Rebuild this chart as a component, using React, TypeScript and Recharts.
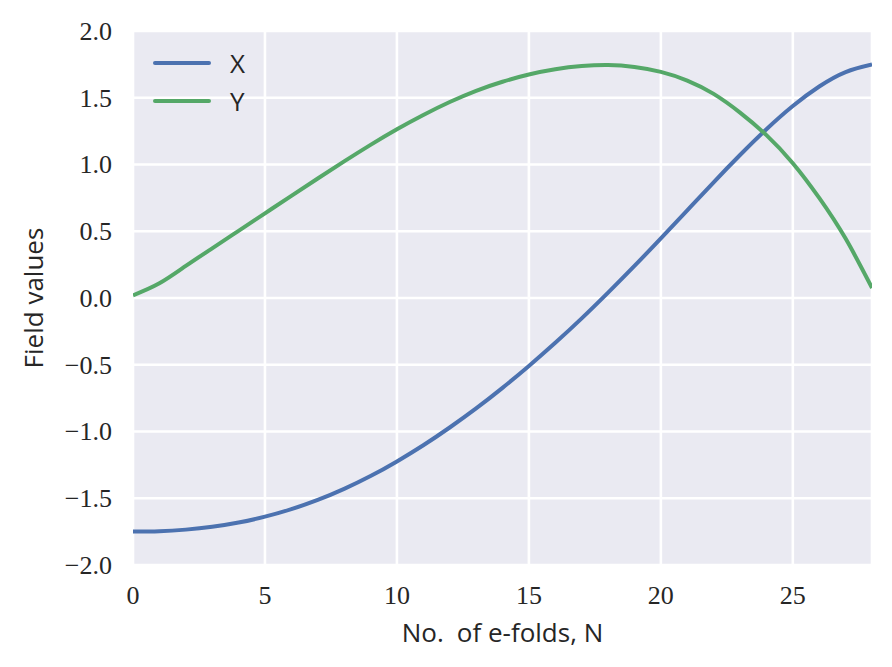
import { LineChart, Line, XAxis, YAxis, CartesianGrid, Legend } from 'recharts'

const efolds = [0, 1, 2, 3, 4, 5, 6, 7, 8, 9, 10, 11, 12, 13, 14, 15, 16, 17, 18, 19, 20, 21, 22, 23, 24, 25, 26, 27, 28]
const fieldX = [-1.75, -1.747, -1.735, -1.714, -1.682, -1.638, -1.582, -1.513, -1.43, -1.334, -1.224, -1.103, -0.97, -0.827, -0.673, -0.509, -0.336, -0.153, 0.04, 0.24, 0.447, 0.657, 0.867, 1.071, 1.264, 1.438, 1.584, 1.692, 1.749]
const fieldY = [0.02, 0.11, 0.24, 0.372, 0.503, 0.634, 0.765, 0.895, 1.023, 1.147, 1.264, 1.371, 1.468, 1.552, 1.62, 1.674, 1.713, 1.737, 1.745, 1.731, 1.694, 1.629, 1.529, 1.389, 1.22, 1.01, 0.75, 0.445, 0.075]

const xTicks = [0, 5, 10, 15, 20, 25]
const yTicks = [-2, -1.5, -1, -0.5, 0, 0.5, 1, 1.5, 2]

const data = efolds.map((n, i) => ({ n, X: fieldX[i], Y: fieldY[i] }))

const BLUE = '#4C72B0'
const GREEN = '#55A868'
const TEXT = '#262626'
const SERIF = '"Liberation Serif", "DejaVu Serif", serif'
const SANS = '"Open Sans", "Noto Sans", sans-serif'

const fmt = (v: number) => (v < 0 ? '\u2212' : '') + Math.abs(v).toFixed(1)

function YTick({ x, y, payload }: any) {
  return (
    <text x={x} y={y} dy="0.34em" textAnchor="end" fontFamily={SERIF} fontSize={26} fill={TEXT}>
      {fmt(payload.value)}
    </text>
  )
}

function XTick({ x, y, payload }: any) {
  return (
    <text x={x} y={y} textAnchor="middle" fontFamily={SERIF} fontSize={26} fill={TEXT}>
      {payload.value}
    </text>
  )
}

function LegendBox({ payload }: any) {
  return (
    <div style={{ fontFamily: SANS, fontSize: 26, color: TEXT }}>
      {(payload ?? []).map((p: any) => (
        <div key={p.value} style={{ display: 'flex', alignItems: 'center', height: 38 }}>
          <svg width={58} height={8} style={{ display: 'block' }}>
            <line x1={2} y1={4} x2={56} y2={4} stroke={p.color} strokeWidth={4} strokeLinecap="round" />
          </svg>
          <span style={{ marginLeft: 19, lineHeight: '38px' }}>{p.value}</span>
        </div>
      ))}
    </div>
  )
}

function YLabel() {
  return (
    <text transform="translate(43,298) rotate(-90)" textAnchor="middle" fontFamily={SANS} fontSize={26} fill={TEXT}>
      Field values
    </text>
  )
}

export default function App() {
  return (
    <div style={{ position: 'absolute', left: 0, top: 0, background: '#fff' }}>
      <LineChart width={892} height={667} data={data} margin={{ top: 31, right: 20, left: 0, bottom: 0 }}>
        <CartesianGrid fill="#EAEAF2" fillOpacity={1} stroke="#ffffff" strokeWidth={2.6} vertical horizontal />
        <XAxis
          dataKey="n"
          type="number"
          domain={[0, 28]}
          ticks={xTicks}
          allowDataOverflow
          height={102}
          axisLine={false}
          tickLine={false}
          tickSize={0}
          tickMargin={39}
          tick={<XTick />}
          label={{ value: 'No.\u2002of e-folds, N', position: 'insideBottom', offset: 25, fontFamily: SANS, fontSize: 26, fill: TEXT }}
        />
        <YAxis
          type="number"
          domain={[-2, 2]}
          ticks={yTicks}
          allowDataOverflow
          width={133}
          axisLine={false}
          tickLine={false}
          tickSize={0}
          tickMargin={21}
          tick={<YTick />}
          label={<YLabel />}
        />
        <Legend
          layout="vertical"
          align="center"
          verticalAlign="middle"
          wrapperStyle={{ left: 153, top: 44, width: 'auto' }}
          content={<LegendBox />}
        />
        <Line type="natural" dataKey="X" name="X" stroke={BLUE} strokeWidth={4} dot={false} isAnimationActive={false} />
        <Line type="natural" dataKey="Y" name="Y" stroke={GREEN} strokeWidth={4} dot={false} isAnimationActive={false} />
      </LineChart>
    </div>
  )
}
